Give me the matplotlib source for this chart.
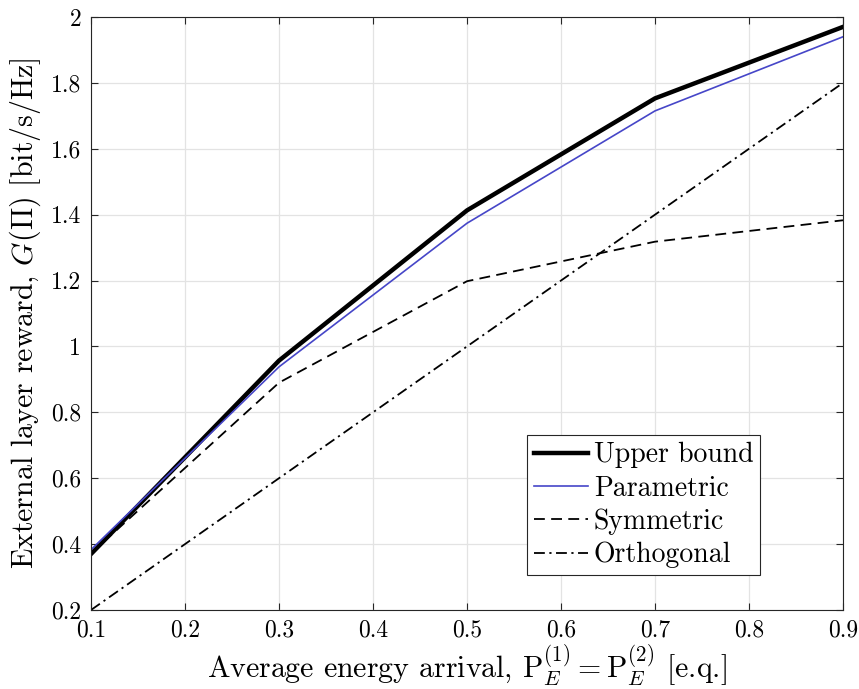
import numpy as np
import matplotlib
matplotlib.use('Agg')
import matplotlib.pyplot as plt
from matplotlib.ticker import FuncFormatter

# ----------------------- DATA -----------------------
energy = [0.1, 0.3, 0.5, 0.7, 0.9]
upper_bound = [0.370, 0.957, 1.413, 1.753, 1.970]
parametric = [0.383, 0.938, 1.374, 1.715, 1.940]
symmetric = [0.372, 0.890, 1.198, 1.318, 1.383]
orthogonal = [0.2, 0.6, 1.0, 1.4, 1.8]

x_ticks = [0.1, 0.2, 0.3, 0.4, 0.5, 0.6, 0.7, 0.8, 0.9]
y_ticks = [0.2, 0.4, 0.6, 0.8, 1.0, 1.2, 1.4, 1.6, 1.8, 2.0]

# ----------------------- STYLE -----------------------
plt.rcParams['font.family'] = ['cmr10', 'DejaVu Serif']
plt.rcParams['mathtext.fontset'] = 'cm'
plt.rcParams['axes.formatter.use_mathtext'] = True

fig = plt.figure(figsize=(8.59, 6.89), dpi=100)
ax = fig.add_axes([91 / 859, 79 / 689, (843 - 91) / 859, (610 - 17) / 689])

ax.plot(energy, upper_bound, color='black', lw=3.2, label='Upper bound', solid_joinstyle='round')
ax.plot(energy, parametric, color='#4646c8', lw=1.2, label='Parametric')
ax.plot(energy, symmetric, color='black', lw=1.3, ls=(0, (6, 3.5)), label='Symmetric')
ax.plot(energy, orthogonal, color='black', lw=1.3, ls=(0, (6, 2.5, 1.2, 2.5)), label='Orthogonal')

ax.set_xlim(0.1, 0.9)
ax.set_ylim(0.2, 2.0)
ax.set_xticks(x_ticks)
ax.set_yticks(y_ticks)
ax.xaxis.set_major_formatter(FuncFormatter(lambda v, p: '%g' % round(v, 2)))
ax.yaxis.set_major_formatter(FuncFormatter(lambda v, p: '%g' % round(v, 2)))
ax.tick_params(direction='in', top=True, right=True, labelsize=17, length=5,
               color='#262626', pad=7)
for s in ax.spines.values():
    s.set_color('#262626')
    s.set_linewidth(0.8)
ax.grid(True, color='#e3e3e3', lw=0.9)
ax.set_axisbelow(True)

ax.set_xlabel(r'Average energy arrival, $\mathrm{P}_E^{(1)} = \mathrm{P}_E^{(2)}$ [e.q.]', fontsize=21.5, labelpad=0.5)
ax.set_ylabel(r'External layer reward, $G(\Pi)$ [bit/s/Hz]', fontsize=21.5, labelpad=6)

leg = ax.legend(loc='upper left', bbox_to_anchor=(527 / 859, 1 - 435 / 689),
                bbox_transform=fig.transFigure, fontsize=20, handlelength=1.95,
                handletextpad=0.2, labelspacing=0.25, borderpad=0.25,
                borderaxespad=0, fancybox=False, framealpha=1)
leg.get_frame().set_edgecolor('#262626')
leg.get_frame().set_linewidth(0.8)

fig.savefig('out.png', dpi=100)
